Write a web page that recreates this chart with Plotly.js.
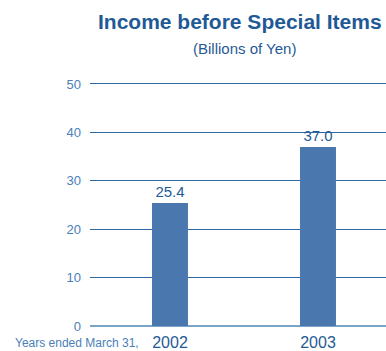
<!DOCTYPE html>
<html>
<head>
<meta charset="utf-8">
<script src="https://cdn.plot.ly/plotly-3.0.1.min.js"></script>
<style>
html,body{margin:0;padding:0;background:#fff;}
#chart{width:386px;height:351px;}
</style>
</head>
<body>
<div id="chart"></div>
<script>
const years = ['2002', '2003'];
const income = [25.4, 37.0];
const valueLabels = ['25.4', '37.0'];
const yTicks = [0, 10, 20, 30, 40, 50];

const xPos = years.map((_, i) => i);

const trace = {
  type: 'bar',
  x: xPos,
  y: income,
  width: 0.243,
  marker: {color: '#4a77ae'},
  text: valueLabels,
  textposition: 'outside',
  cliponaxis: false,
  textfont: {family: 'Liberation Sans, Arial, sans-serif', size: 15, color: '#1f5a96'},
  hoverinfo: 'none'
};

const layout = {
  width: 386,
  height: 351,
  margin: {l: 90, r: 0, t: 79, b: 25},
  paper_bgcolor: '#fff',
  plot_bgcolor: '#fff',
  showlegend: false,
  xaxis: {
    range: [-0.5405, 1.4595],
    tickmode: 'array',
    tickvals: xPos,
    ticktext: years,
    showgrid: false,
    zeroline: false,
    showline: false,
    ticks: '',
    ticklabelstandoff: 5,
    tickfont: {family: 'Liberation Sans, Arial, sans-serif', size: 16, color: '#1f5a96'},
    fixedrange: true
  },
  yaxis: {
    range: [0, 51.03],
    tickmode: 'array',
    tickvals: yTicks,
    showgrid: true,
    gridcolor: '#2f68a6',
    gridwidth: 1,
    zeroline: true,
    zerolinecolor: '#7ba4c9',
    zerolinewidth: 2,
    showline: false,
    ticks: '',
    ticklabelstandoff: 8,
    tickfont: {family: 'Liberation Sans, Arial, sans-serif', size: 13, color: '#4a80b8'},
    fixedrange: true
  },
  annotations: [
    {
      text: '<b>Income before Special Items</b>',
      xref: 'paper', yref: 'paper',
      x: (240 - 90) / 296, y: 1 + (79 - 22) / 247,
      xanchor: 'center', yanchor: 'middle',
      showarrow: false,
      font: {family: 'Liberation Sans, Arial, sans-serif', size: 21, color: '#1f5a96'}
    },
    {
      text: '(Billions of Yen)',
      xref: 'paper', yref: 'paper',
      x: (244 - 90) / 296, y: 1 + (79 - 48) / 247,
      xanchor: 'center', yanchor: 'middle',
      showarrow: false,
      font: {family: 'Liberation Sans, Arial, sans-serif', size: 15, color: '#1f5a96'}
    },
    {
      text: 'Years ended March 31,',
      xref: 'paper', yref: 'paper',
      x: (141 - 90) / 296, y: -(343 - 326) / 247,
      xanchor: 'right', yanchor: 'middle',
      showarrow: false,
      font: {family: 'Liberation Sans, Arial, sans-serif', size: 12, color: '#4a80b8'}
    }
  ]
};

Plotly.newPlot('chart', [trace], layout, {staticPlot: true, displayModeBar: false});
</script>
</body>
</html>
